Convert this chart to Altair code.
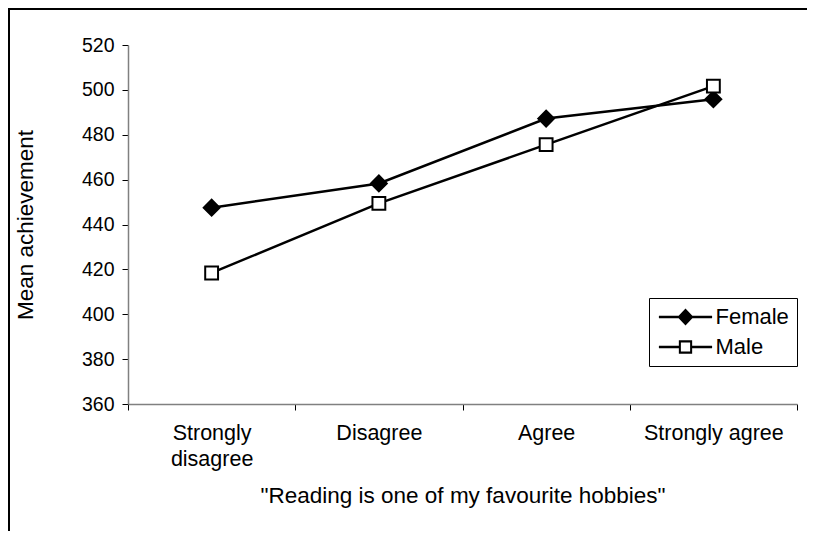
import altair as alt
import pandas as pd

categories = ["Strongly disagree", "Disagree", "Agree", "Strongly agree"]
female = [447.5, 458.3, 487.2, 495.8]
male = [418.4, 449.4, 475.6, 501.7]
genders = ["Female", "Male"]

rows = []
for c, f, m in zip(categories, female, male):
    rows.append({"category": c, "gender": "Female", "value": f})
    rows.append({"category": c, "gender": "Male", "value": m})
df = pd.DataFrame(rows)

W, H = 669, 359
FONT = "Liberation Sans"

x_enc = alt.X(
    "category:N",
    sort=categories,
    scale=alt.Scale(paddingInner=0, paddingOuter=0),
    axis=alt.Axis(
        title='"Reading is one of my favourite hobbies"',
        labelAngle=0,
        tickBand="extent",
        labelExpr="datum.label == 'Strongly disagree' ? ['Strongly', 'disagree'] : datum.label",
        labelLineHeight=26,
        labelFontSize=21.5,
        labelPadding=12,
        tickSize=6,
        titleFontSize=22.5,
        titleFontWeight="normal",
        titlePadding=15,
    ),
)
y_enc = alt.Y(
    "value:Q",
    scale=alt.Scale(domain=[360, 520], nice=False, zero=False),
    axis=alt.Axis(
        title="Mean achievement",
        values=list(range(360, 521, 20)),
        labelFontSize=19.5,
        labelPadding=8,
        tickSize=6,
        grid=False,
        titleFontSize=22.5,
        titleFontWeight="normal",
        titleX=-103,
        titleY=H / 2,
        titleAngle=270,
        titleAlign="center",
        titleBaseline="middle",
    ),
)

base = alt.Chart(df)

lines = base.mark_line(color="black", strokeWidth=2.5).encode(
    x=x_enc, y=y_enc, detail="gender:N"
)

points = base.mark_point(filled=False, stroke="black", strokeWidth=2, opacity=1).encode(
    x=x_enc,
    y=y_enc,
    shape=alt.Shape(
        "gender:N",
        scale=alt.Scale(domain=genders, range=["diamond", "square"]),
        legend=None,
    ),
    fill=alt.Fill(
        "gender:N",
        scale=alt.Scale(domain=genders, range=["black", "white"]),
        legend=None,
    ),
    size=alt.Size(
        "gender:N",
        scale=alt.Scale(domain=genders, range=[250, 165]),
        legend=None,
    ),
)

# legend glyphs: line segment + marker, drawn as filled outlines
female_path = (
    "M-3.8,-0.17H3.8V0.17H-3.8Z "
    "M-1.15,0L0,-1.2L1.15,0L0,1.2Z"
)
male_path = (
    "M-3.8,-0.17H-0.95V0.17H-3.8Z "
    "M0.95,-0.17H3.8V0.17H0.95Z "
    "M-0.95,-0.95H0.95V0.95H-0.95Z "
    "M-0.66,-0.66V0.66H0.66V-0.66Z"
)

legend_layer = base.mark_point(filled=True, color="black", strokeWidth=0, opacity=0, size=196).encode(
    x=x_enc,
    y=y_enc,
    shape=alt.Shape(
        "gender:N",
        scale=alt.Scale(domain=genders, range=[female_path, male_path]),
        legend=alt.Legend(
            title=None,
            orient="none",
            legendX=521,
            legendY=253,
            direction="vertical",
            strokeColor="black",
            padding=8,
            labelFontSize=22,
            labelFont=FONT,
            labelColor="black",
            symbolSize=196,
            symbolOpacity=1,
            symbolFillColor="black",
            symbolStrokeWidth=0,
            symbolOffset=17.5,
            labelOffset=19,
            rowPadding=8,
        ),
    ),
)

border = alt.Chart(pd.DataFrame({"a": [0]})).mark_rect(
    fill=None, stroke="black", strokeWidth=2
).encode(
    x=alt.value(-119),
    y=alt.value(-36),
    x2=alt.value(W + 200),
    y2=alt.value(H + 300),
)

chart = alt.layer(border, legend_layer, lines, points).resolve_scale(
    shape="independent", size="independent"
).properties(
    width=W,
    height=H,
    padding={"left": 120, "top": 37, "right": 10, "bottom": 127},
    autosize=alt.AutoSizeParams(type="none"),
).configure_view(stroke=None).configure_axis(
    labelFont=FONT,
    titleFont=FONT,
    labelColor="black",
    titleColor="black",
    domainColor="#808080",
    domainWidth=1.5,
    tickColor="black",
    tickWidth=1,
).configure_legend(labelFont=FONT)

chart.save("out.html", embed_options={"renderer": "svg", "actions": False})
